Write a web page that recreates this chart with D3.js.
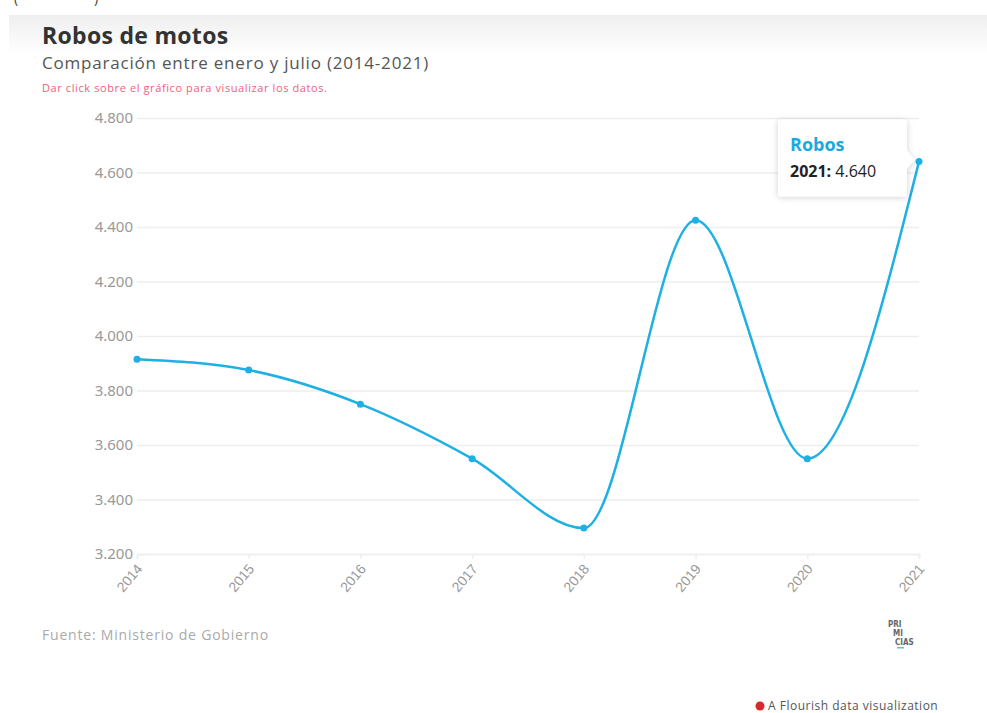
<!DOCTYPE html>
<html><head><meta charset="utf-8">
<script src="https://cdn.jsdelivr.net/npm/d3@7"></script>
<style>
body{margin:0;background:#fff;font-family:"Open Sans","Noto Sans",sans-serif;}
svg{display:block}
</style></head><body>
<svg id="c" width="987" height="713"></svg>
<script>
const years = ["2014","2015","2016","2017","2018","2019","2020","2021"];
const robos = [3915, 3875, 3750, 3550, 3295, 4425, 3550, 4640];
const yTicks = [3200, 3400, 3600, 3800, 4000, 4200, 4400, 4600, 4800];
const seriesName = "Robos";

const svg = d3.select("#c");
const defs = svg.append("defs");
const g1 = defs.append("linearGradient").attr("id","hdr").attr("x1",0).attr("x2",0).attr("y1",0).attr("y2",1);
g1.append("stop").attr("offset","0%").attr("stop-color","#efefef");
g1.append("stop").attr("offset","100%").attr("stop-color","#ffffff");
const f = defs.append("filter").attr("id","sh").attr("x","-20%").attr("y","-20%").attr("width","140%").attr("height","150%");
f.append("feDropShadow").attr("dx",0).attr("dy",1).attr("stdDeviation",3).attr("flood-color","#000").attr("flood-opacity",0.18);

svg.append("rect").attr("x",9).attr("y",15).attr("width",978).attr("height",40).attr("fill","url(#hdr)");
svg.append("text").attr("x",14).attr("y",3).attr("font-size",14).attr("fill","#444").text("(");
svg.append("text").attr("x",94).attr("y",3).attr("font-size",14).attr("fill","#444").text(")");

svg.append("text").attr("x",42).attr("y",44).attr("font-size",23).attr("font-weight","bold")
  .attr("letter-spacing",0.3).attr("fill","#333").text("Robos de motos");
svg.append("text").attr("x",42).attr("y",69).attr("font-size",17).attr("fill","#555")
  .attr("letter-spacing",0.8).text("Comparación entre enero y julio (2014-2021)");
svg.append("text").attr("x",42).attr("y",92).attr("font-size",11).attr("fill","#f0607f")
  .attr("letter-spacing",0.6).text("Dar click sobre el gráfico para visualizar los datos.");

const x = d3.scalePoint().domain(years).range([137, 919]);
const y = d3.scaleLinear().domain([3200, 4800]).range([554, 118]);

const yAxis = svg.append("g").attr("transform","translate(137,0)")
  .call(d3.axisLeft(y).tickValues(yTicks).tickSize(-782).tickPadding(4)
    .tickFormat(d => d3.format(",")(d).replace(",", ".")));
yAxis.select(".domain").remove();
yAxis.selectAll("line").attr("stroke","#eeeeee").attr("stroke-width",1.5);
yAxis.selectAll("text").attr("fill","#999").attr("font-size",15).attr("font-family","'Noto Sans',sans-serif");

const xAxis = svg.append("g").attr("transform","translate(0,554)")
  .call(d3.axisBottom(x).tickSize(5).tickPadding(4));
xAxis.select(".domain").attr("stroke","#eeeeee").attr("stroke-width",1.5);
xAxis.selectAll("line").attr("stroke","#eeeeee").attr("stroke-width",1.5);
xAxis.selectAll("text").attr("fill","#999").attr("font-size",14)
  .attr("text-anchor","end").attr("dy","0.35em")
  .attr("transform","translate(2,12) rotate(-50)").attr("x",0).attr("y",0);

const data = years.map((yr,i)=>({yr, v: robos[i]}));
const line = d3.line().x(d=>x(d.yr)).y(d=>y(d.v)).curve(d3.curveMonotoneX);
svg.append("path").datum(data).attr("d",line).attr("fill","none")
  .attr("stroke","#1eb0e4").attr("stroke-width",2.5);
svg.selectAll("circle.pt").data(data).enter().append("circle").attr("class","pt")
  .attr("cx",d=>x(d.yr)).attr("cy",d=>y(d.v)).attr("r",3.5).attr("fill","#1eb0e4");

// tooltip for last point
const last = data[data.length-1];
const px = x(last.yr), py = y(last.v);
const tw = 129, th = 77;
const tx = px - 12 - tw, ty = py - 42;
const tip = svg.append("g").attr("filter","url(#sh)");
tip.append("rect").attr("x",tx).attr("y",ty).attr("width",tw).attr("height",th).attr("rx",3).attr("fill","#fff");
tip.append("path").attr("d",`M${tx+tw-1},${py-12} L${px-4},${py-2} L${tx+tw-1},${py+8} Z`).attr("fill","#fff");
svg.append("text").attr("x",tx+12).attr("y",ty+31).attr("font-size",18).attr("font-weight","bold")
  .attr("fill","#1aa9df").text(seriesName);
const t2 = svg.append("text").attr("x",tx+12).attr("y",ty+57).attr("font-size",16).attr("fill","#222");
t2.append("tspan").attr("font-weight","bold").text(last.yr + ":");
t2.append("tspan").text(" " + d3.format(",")(last.v).replace(",", "."));

svg.append("text").attr("x",42).attr("y",640).attr("font-size",14).attr("fill","#aaa")
  .attr("letter-spacing",0.8).text("Fuente: Ministerio de Gobierno");

// logo
const lg = svg.append("g").attr("font-size",8).attr("font-weight","bold").attr("fill","#666").attr("font-family","'DejaVu Sans Condensed',sans-serif");
lg.append("text").attr("x",888).attr("y",627).text("PRI");
lg.append("text").attr("x",893).attr("y",636).text("MI");
lg.append("text").attr("x",895).attr("y",645).text("CIAS");
svg.append("rect").attr("x",897).attr("y",647).attr("width",7).attr("height",1.5).attr("fill","#5bc0ee");

// flourish credit
const fc = svg.append("g");
fc.append("circle").attr("cx",760).attr("cy",706).attr("r",4.5).attr("fill","#d42a2a");
fc.append("text").attr("x",768).attr("y",710).attr("font-size",12).attr("fill","#555")
  .attr("letter-spacing",0.5).text("A Flourish data visualization");
</script>
</body></html>
